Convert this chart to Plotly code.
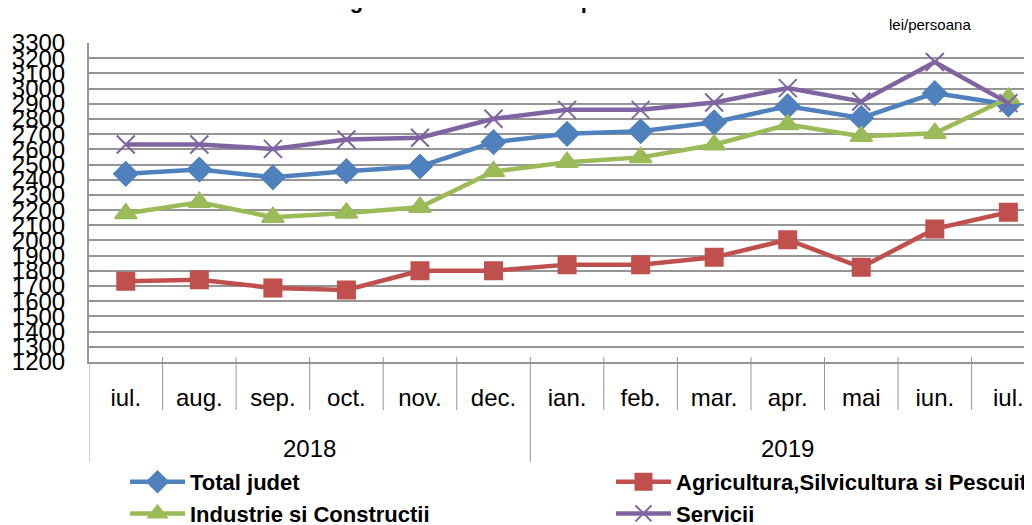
import plotly.graph_objects as go

months = ["iul.", "aug.", "sep.", "oct.", "nov.", "dec.", "ian.", "feb.", "mar.", "apr.", "mai", "iun.", "iul."]
years = ["2018"] * 6 + ["2019"] * 7

total_judet = [2439, 2467, 2416, 2456, 2487, 2647, 2702, 2719, 2778, 2884, 2807, 2970, 2895]
agricultura = [1731, 1742, 1687, 1674, 1801, 1801, 1841, 1841, 1889, 2005, 1823, 2076, 2186]
industrie = [2177, 2252, 2153, 2181, 2219, 2454, 2515, 2547, 2630, 2763, 2686, 2706, 2938]
servicii = [2632, 2632, 2603, 2665, 2676, 2801, 2860, 2860, 2908, 3003, 2915, 3175, 2904]

xpos = list(range(len(months)))

series = [
    ("Total judet", total_judet, "#4F81BD", "diamond", 18, "legend"),
    ("Agricultura,Silvicultura si Pescuit", agricultura, "#C0504D", "square", 17, "legend2"),
    ("Industrie si Constructii", industrie, "#9BBB59", "triangle-up", 19, "legend"),
    ("Servicii", servicii, "#8064A2", "x-thin-open", 18, "legend2"),
]

fig = go.Figure()
for k, (name, vals, color, sym, size, lg) in enumerate(series):
    fig.add_trace(go.Scatter(
        x=xpos, y=vals, name=name, mode="lines+markers", legend=lg,
        legendgroup=f"g{k}",
        line=dict(color=color, width=4.5),
        marker=dict(symbol=sym, size=size, color=color,
                    line=dict(color=color, width=2)),
    ))

grid = "#959595"
ph = 319.0  # plot height in px
pw = 951.0  # plot width in px
L = 81      # left margin

shapes = []
n = len(months)
for i in range(n + 1):
    b = i - 0.5
    is_year_edge = (i == 0) or (i < n and years[i] != years[i - 1])
    bottom = -100 / ph if is_year_edge else -48 / ph
    if i < n:
        shapes.append(dict(type="line", xref="x", yref="paper", x0=b, x1=b,
                           y0=0, y1=bottom, line=dict(color=grid, width=1)))
    if i > 0:
        shapes.append(dict(type="line", xref="x", yref="paper", x0=b, x1=b,
                           y0=0, y1=5 / ph, line=dict(color=grid, width=1)))

annotations = []
for yr in dict.fromkeys(years):
    idx = [i for i, y in enumerate(years) if y == yr]
    xc = (idx[0] + idx[-1]) / 2
    annotations.append(dict(text=yr, x=xc, xref="x", y=-86 / ph, yref="paper",
                            xanchor="center", yanchor="middle", showarrow=False,
                            font=dict(size=24)))
annotations.append(dict(text="lei/persoana", xref="paper", yref="paper",
                        x=(922 - L) / pw, y=1.0, xanchor="center", yanchor="bottom", yshift=8,
                        showarrow=False, font=dict(size=15)))
annotations.append(dict(text="<b>Castigul salarial mediu net pe activitati ale economiei</b>",
                        xref="paper", yref="paper", x=(567 - L) / pw, y=1.0,
                        xanchor="center", yanchor="bottom", yshift=28,
                        showarrow=False, font=dict(size=22)))

legend_common = dict(orientation="v", xanchor="left", y=-99 / ph, yanchor="top",
                     itemwidth=55, tracegroupgap=0,
                     font=dict(size=22, weight="bold"), bgcolor="rgba(0,0,0,0)")

fig.update_layout(
    width=1032, height=525,
    margin=dict(l=L, r=0, t=35, b=171, autoexpand=False),
    paper_bgcolor="white", plot_bgcolor="white",
    font=dict(family="Liberation Sans", color="black"),
    showlegend=True,
    legend=dict(x=(117 - L) / pw, **legend_common),
    legend2=dict(x=(603 - L) / pw, **legend_common),
    xaxis=dict(range=[-0.5, 12.43], tickmode="array", tickvals=xpos, ticktext=months,
               showline=True, linecolor=grid, linewidth=2, ticks="",
               showgrid=False, zeroline=False, tickfont=dict(size=24),
               ticklabelstandoff=13, automargin=False),
    yaxis=dict(range=[1200, 3300], dtick=100, tick0=1200,
               showgrid=True, gridcolor=grid, gridwidth=2,
               showline=True, linecolor=grid, linewidth=2,
               ticks="", tickfont=dict(size=24), zeroline=False,
               ticklabelstandoff=17, automargin=False),
    shapes=shapes,
    annotations=annotations,
)
fig.write_html("out.html")
